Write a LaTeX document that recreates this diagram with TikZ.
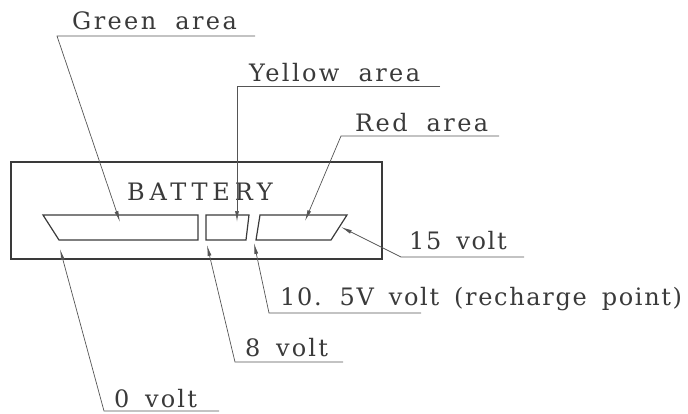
\documentclass[tikz,border=0pt]{standalone}
\usepackage{fontspec}
\usetikzlibrary{arrows.meta}
\newfontfamily\areafont[LetterSpace=10,WordSpace=1.9]{DejaVu Serif}
\newfontfamily\voltfont[LetterSpace=7,WordSpace=1.6]{DejaVu Serif}
\newfontfamily\voltfontB[LetterSpace=9,WordSpace=1.6]{DejaVu Serif}
\newfontfamily\batfont[LetterSpace=20]{DejaVu Serif}
\definecolor{ink}{HTML}{3A3A3A}
\definecolor{lead}{HTML}{555555}
\tikzset{
  lbl/.style={anchor=base west, inner sep=0pt, text=ink, font=\voltfont\fontsize{24}{24}\selectfont},
  lblS/.style={lbl, font=\voltfontB\fontsize{24}{24}\selectfont},
  lblA/.style={lbl, font=\areafont\fontsize{24}{24}\selectfont},
  lblC/.style={lbl, font=\batfont\fontsize{24}{24}\selectfont},
  outline/.style={draw=ink, line width=1.2pt, line join=miter},
  leader/.style={draw=lead, line width=0.7pt},
  pointer/.style={leader, -{Latex[length=11pt,width=3.8pt]}},
}
\begin{document}
\begin{tikzpicture}[x=1pt,y=-1pt]
\useasboundingbox (0,0) rectangle (688,413);
% battery outline and areas
\draw[outline] (11,162) rectangle (382,259);
\draw[outline] (43,215) -- (198,215) -- (198,240) -- (59,240) -- cycle;
\draw[outline] (206,215) -- (249,215) -- (246,240) -- (206,240) -- cycle;
\draw[outline] (260,215) -- (347,215) -- (331,240) -- (256,240) -- cycle;
\node[lblC] (bat) at (127,200) {BATTERY};
% labels
\node[lblA] (green) at (72,29) {Green area};
\node[lblA] (yellow) at (249,81) {Yellow area};
\node[lblA] (red) at (355,131) {Red area};
\node[lbl] (v15) at (409,249) {15 volt};
\node[lbl] (v105) at (280,305) {10. 5V volt (recharge point)};
\node[lblS] (v8) at (245,356) {8 volt};
\node[lblS] (v0) at (114,407) {0 volt};
% leader coordinates
\coordinate (gE) at (255,36);  \coordinate (gB) at (57,36);   \coordinate (gT) at (120,222);
\coordinate (yE) at (440,86);  \coordinate (yB) at (237,86);  \coordinate (yT) at (237,222);
\coordinate (rE) at (499,136); \coordinate (rB) at (341,136); \coordinate (rT) at (305,221);
\coordinate (aE) at (524,257); \coordinate (aB) at (401,257); \coordinate (aT) at (341,227);
\coordinate (bE) at (421,313); \coordinate (bB) at (269,313); \coordinate (bT) at (254,243);
\coordinate (cE) at (343,362); \coordinate (cB) at (235,362); \coordinate (cT) at (207,245);
\coordinate (dE) at (219,411); \coordinate (dB) at (104,411); \coordinate (dT) at (60,249);
\draw[pointer] (gE) -- (gB) -- (gT);
\draw[pointer] (yE) -- (yB) -- (yT);
\draw[pointer] (rE) -- (rB) -- (rT);
\draw[pointer] (aE) -- (aB) -- (aT);
\draw[pointer] (bE) -- (bB) -- (bT);
\draw[pointer] (cE) -- (cB) -- (cT);
\draw[pointer] (dE) -- (dB) -- (dT);
\end{tikzpicture}
\end{document}
